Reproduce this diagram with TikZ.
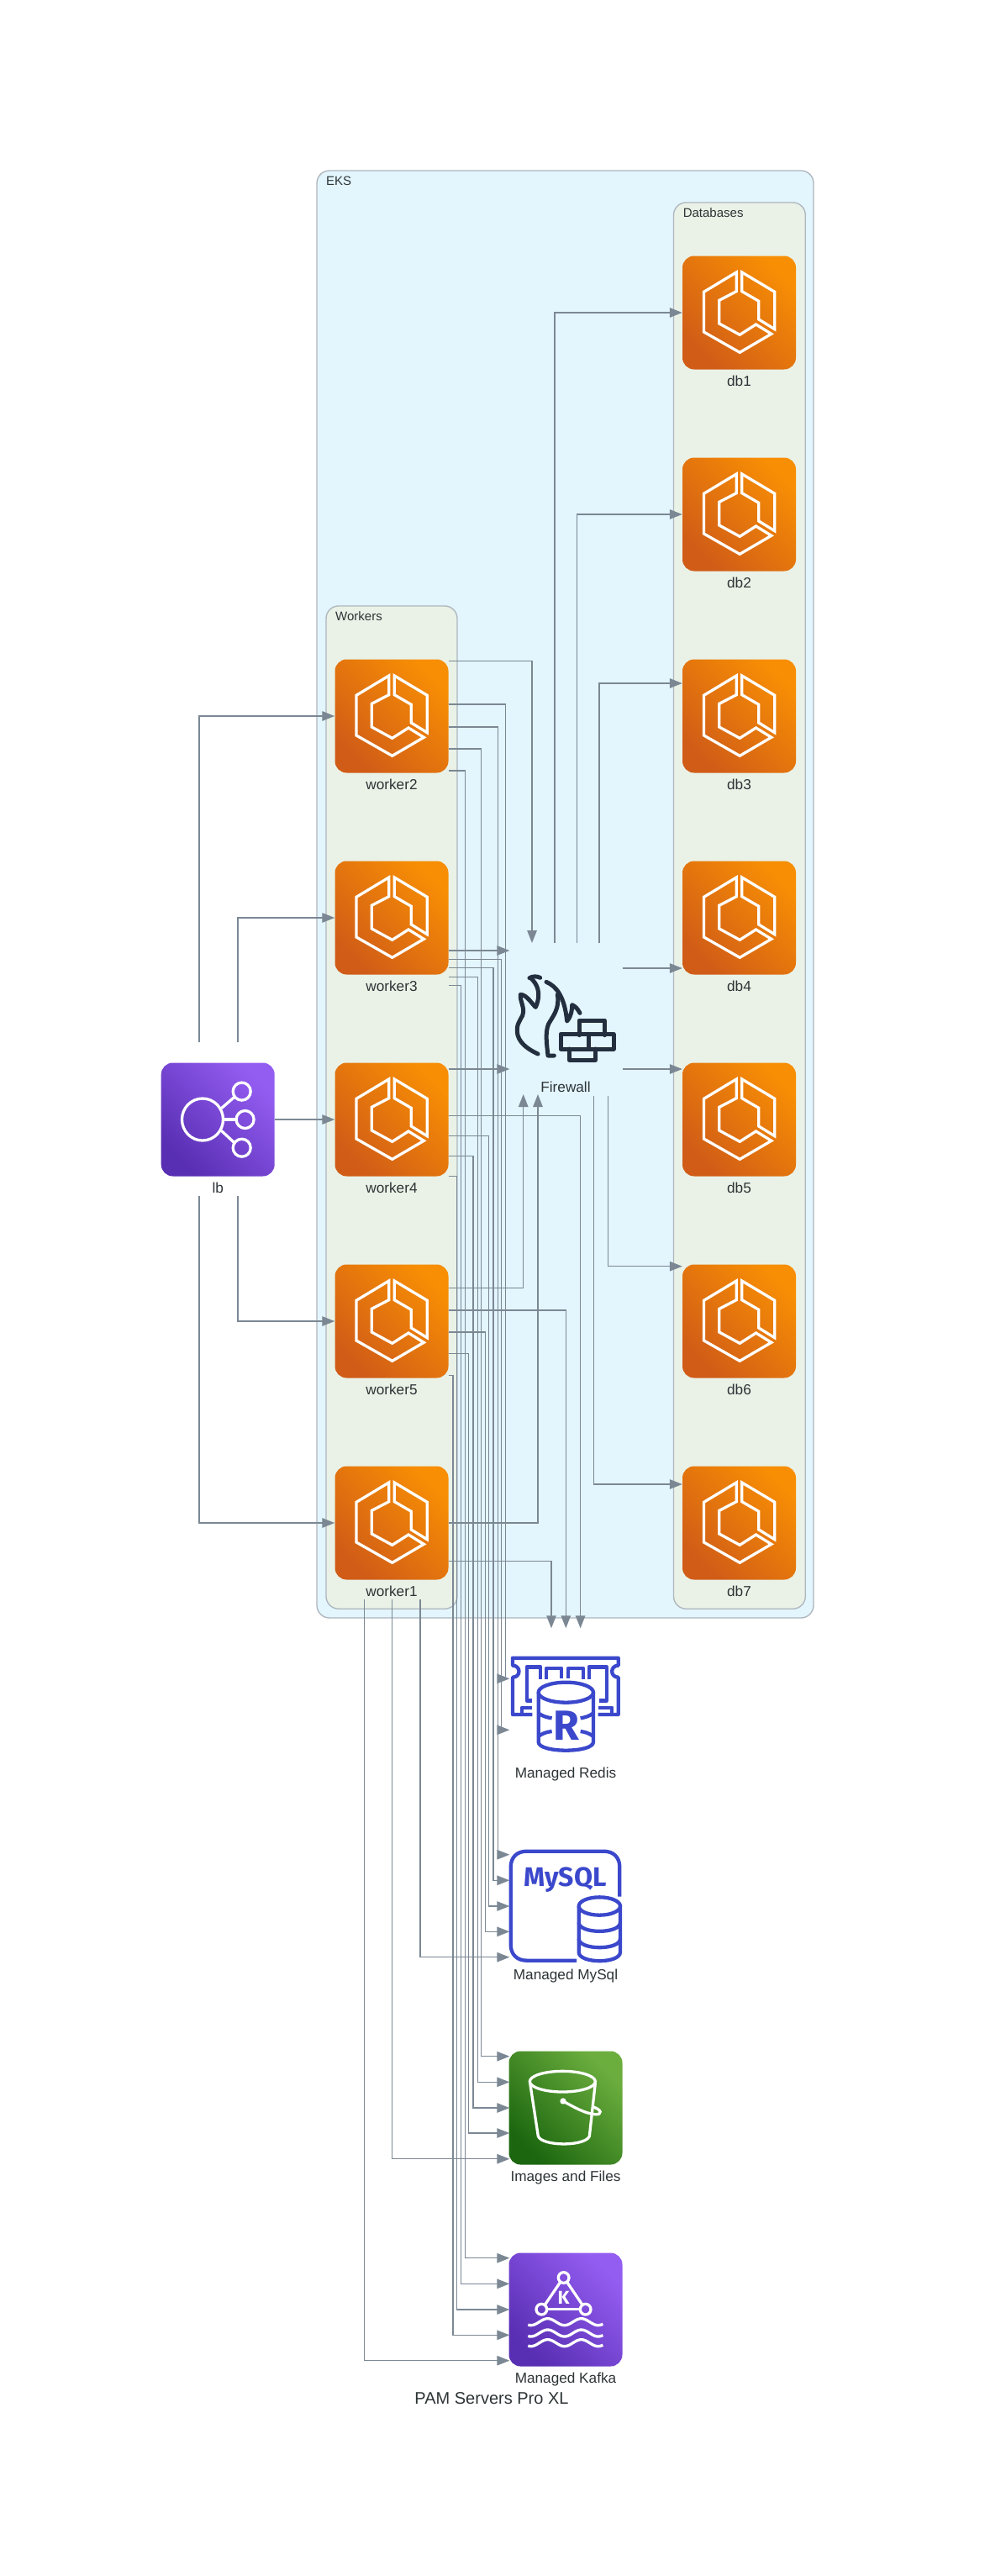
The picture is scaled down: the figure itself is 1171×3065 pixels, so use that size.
\documentclass[tikz,border=0pt]{standalone}
\usepackage{fontspec}
\setmainfont{Liberation Sans}
\newfontfamily\firafont{Fira Sans}
\usetikzlibrary{arrows.meta,shapes.geometric}
\definecolor{txt}{HTML}{2D3436}
\definecolor{edgec}{HTML}{7B8894}
\definecolor{clusb}{HTML}{AEB6BE}
\definecolor{eksbg}{HTML}{E3F5FD}
\definecolor{grpbg}{HTML}{EAF2E7}
\definecolor{awsblue}{HTML}{3B48CC}
\definecolor{awsdark}{HTML}{232F3E}
\tikzset{
  edge/.style={draw=edgec,line width=1.35pt,-{Triangle[length=15pt,width=11.5pt,fill=edgec]}},
  lab/.style={font=\fontsize{17.2}{20}\selectfont,text=txt,inner sep=0pt,text height=12.6pt,text depth=4pt,yshift=-7pt},
  grouplab/.style={font=\fontsize{15}{17}\selectfont,text=txt,inner sep=0pt,anchor=west},
  group/.style={draw=clusb,line width=1.35pt,rounded corners=15pt,inner sep=0pt},
  iconbox/.style={minimum size=135pt,inner sep=0pt,rounded corners=14pt},
  plainbox/.style={minimum size=135pt,inner sep=0pt},
  orangeicon/.style={iconbox,bottom color={rgb,255:red,208;green,92;blue,23},top color={rgb,255:red,247;green,142;blue,4},shading angle=-45},
  purpleicon/.style={iconbox,bottom color={rgb,255:red,88;green,46;blue,178},top color={rgb,255:red,148;green,93;blue,242},shading angle=-45},
  greenicon/.style={iconbox,bottom color={rgb,255:red,27;green,102;blue,15},top color={rgb,255:red,108;green,174;blue,62},shading angle=-45},
  glyphw/.style={draw=white,line width=3.3pt,line join=miter},
  glyphb/.style={draw=awsblue,line width=4.3pt,line join=round},
  glyphd/.style={draw=awsdark,line width=5pt,line join=round,line cap=round},
  zoomgrid/.style={x=0.33333pt,y=-0.33333pt},
  ecsglyph/.pic={
    \draw[glyphw] (-3.3,-48)--(-42,-24.7)--(-42,23)--(0.7,47.3)--(38.3,25.3)--(20,14)--(0.7,26.3)--(-23.7,13)--(-23.7,-14.7)--(-3.3,-25.3)--cycle;
    \draw[glyphw] (3.3,-48)--(3.3,-25.3)--(23.3,-13.7)--(23.3,8)--(42.3,19.7)--(42.3,-24.7)--cycle;
  }
}
% source, source dy, channel dx, target, target dy
\newcommand{\routeedge}[5]{\draw[edge] ([shift={(0,#2)}]#1.east) -- ++(#3,0) |- ([shift={(1,#5)}]#4.west);}
% worker/lb bottom: source, source dx, target, target dy
\newcommand{\downedge}[4]{\draw[edge] ([shift={(#2,91)}]#1.center) |- ([shift={(1,#4)}]#3.west);}
% horizontal then vertical to a top/bottom entry
\newcommand{\hvedge}[5]{\draw[edge] ([shift={(0,#2)}]#1.east) -| ([shift={(#4,#5)}]#3.center);}
\begin{document}
\begin{tikzpicture}[x=1pt,y=-1pt]
\useasboundingbox (0,0) rectangle (1171,3065);
\fill[white] (0,0) rectangle (1171,3065);

% clusters
\node[group,fill=eksbg,minimum width=591pt,minimum height=1722pt] (eks) at (672.5,1064) {};
\node[group,fill=grpbg,minimum width=156.8pt,minimum height=1673.3pt] (dbs) at (879.9,1077.6) {};
\node[group,fill=grpbg,minimum width=156pt,minimum height=1193.3pt] (wks) at (466,1317.6) {};
\node[grouplab] (eksl) at (388,215) {EKS};
\node[grouplab] (dbsl) at (812.6,253) {Databases};
\node[grouplab] (wksl) at (399,733) {Workers};

% nodes
\node[orangeicon,label={[lab]below:worker2}] (w2) at (466,852) {};
\node[orangeicon,label={[lab]below:worker3}] (w3) at (466,1092) {};
\node[orangeicon,label={[lab]below:worker4}] (w4) at (466,1332) {};
\node[orangeicon,label={[lab]below:worker5}] (w5) at (466,1572) {};
\node[orangeicon,label={[lab]below:worker1}] (w1) at (466,1812) {};
\node[orangeicon,label={[lab]below:db1}] (db1) at (879.5,372) {};
\node[orangeicon,label={[lab]below:db2}] (db2) at (879.5,612) {};
\node[orangeicon,label={[lab]below:db3}] (db3) at (879.5,852) {};
\node[orangeicon,label={[lab]below:db4}] (db4) at (879.5,1092) {};
\node[orangeicon,label={[lab]below:db5}] (db5) at (879.5,1332) {};
\node[orangeicon,label={[lab]below:db6}] (db6) at (879.5,1572) {};
\node[orangeicon,label={[lab]below:db7}] (db7) at (879.5,1812) {};
\node[purpleicon,label={[lab]below:lb}] (lb) at (259.2,1332) {};
\node[plainbox,label={[lab]below:Firewall}] (fw) at (673,1212) {};
\node[plainbox,label={[lab]below:Managed Redis}] (red) at (673,2028) {};
\node[plainbox,label={[lab]below:Managed MySql}] (sql) at (673,2268) {};
\node[greenicon,label={[lab]below:Images and Files}] (s3) at (673,2508) {};
\node[purpleicon,label={[lab]below:Managed Kafka}] (kaf) at (673,2748) {};
\node[font=\fontsize{20}{24}\selectfont,text=txt,inner sep=0pt] (title) at (585,2854) {PAM Servers Pro XL};

% ecs glyphs
\foreach \n in {w1,w2,w3,w4,w5,db1,db2,db3,db4,db5,db6,db7} { \pic at (\n.center) {ecsglyph}; }

% lb glyph
\begin{scope}[shift={(lb.center)}]
  \draw[glyphw] (-18.2,0) ellipse [x radius=24.5,y radius=25];
  \draw[glyphw] (28.5,-33.4) circle [radius=10.5];
  \draw[glyphw] (32.4,0) circle [radius=10.5];
  \draw[glyphw] (28.5,33.7) circle [radius=10.5];
  \draw[glyphw] (4.3,-13.4)--(20,-27);
  \draw[glyphw] (6.3,0)--(21.8,0);
  \draw[glyphw] (4.3,13.4)--(20,28);
\end{scope}

% firewall glyph
\begin{scope}[shift={(580,1100)},zoomgrid]
  \draw[glyphd] (150,191) .. controls (160,184) and (178,184) .. (188,190);
  \draw[glyphd] (158,195) .. controls (172,208) and (196,240) .. (172,295)
     .. controls (160,285) and (140,250) .. (118,250)
     .. controls (115,275) and (135,295) .. (125,325)
     .. controls (115,345) and (100,360) .. (108,395)
     .. controls (118,430) and (155,450) .. (180,462);
  \draw[glyphd] (210,205) .. controls (245,220) and (275,255) .. (284,345)
     .. controls (300,325) and (302,305) .. (302,287)
     .. controls (315,292) and (322,302) .. (330,316);
  \draw[glyphd] (250,250) .. controls (258,300) and (235,325) .. (218,355)
     .. controls (205,385) and (212,430) .. (216,468) -- (238,468);
  \draw[glyphd] (327,395)--(327,342)--(418,342)--(418,395);
  \draw[glyphd] (261,391) rectangle (450,444);
  \draw[glyphd] (360,391)--(360,444);
  \draw[glyphd] (293,444)--(293,484)--(385,484)--(385,444);
\end{scope}

% redis glyph
\begin{scope}[shift={(400,1900)},zoomgrid]
  \draw[glyphb] (700,420)--(630,420)--(630,287) .. controls (660,287) and (660,245) .. (630,245) -- (630,218)
     -- (1007,218) -- (1007,245) .. controls (977,245) and (977,287) .. (1007,287) -- (1007,420) -- (935,420);
  \draw[glyphb] (700,370)--(680,370)--(680,250)--(730,250)--(730,295);
  \draw[glyphb] (750,295)--(750,255)--(805,255)--(805,290);
  \draw[glyphb] (828,290)--(828,255)--(882,255)--(882,295);
  \draw[glyphb] (902,295)--(902,250)--(965,250)--(965,370)--(938,370);
  \draw[glyphb] (700,395)--(662,395)--(662,420);
  \draw[glyphb] (935,395)--(985,395)--(985,420);
  \draw[glyphb] (820,341) ellipse [x radius=98,y radius=36];
  \draw[glyphb] (722,341)--(722,518) .. controls (722,558) and (918,558) .. (918,518) -- (918,341);
  \draw[glyphb] (722,415) .. controls (735,425) and (750,430) .. (770,433);
  \draw[glyphb] (918,415) .. controls (905,425) and (890,430) .. (872,433);
  \draw[glyphb] (722,498) .. controls (735,488) and (750,482) .. (770,480);
  \draw[glyphb] (918,498) .. controls (905,488) and (890,482) .. (872,480);
  \node[text=awsblue,font=\firafont\bfseries\fontsize{50}{50}\selectfont,inner sep=0pt] (redisr) at (822,458) {R};
\end{scope}

% mysql glyph
\begin{scope}[shift={(400,1900)},zoomgrid]
  \draw[glyphb,line join=miter] (1012,1070)--(1012,965) .. controls (1012,930) and (990,908) .. (955,908)
     -- (680,908) .. controls (645,908) and (623,930) .. (623,965) -- (623,1241)
     .. controls (623,1276) and (645,1298) .. (680,1298) -- (858,1298);
  \node[text=awsblue,font=\firafont\bfseries\fontsize{32}{32}\selectfont,inner sep=0pt,text height=23pt,text depth=7pt] (mysqlt) at (817,1010) {MySQL};
  \draw[glyphb] (940,1104) ellipse [x radius=74,y radius=32];
  \draw[glyphb] (866,1104)--(866,1268) .. controls (866,1310) and (1014,1310) .. (1014,1268) -- (1014,1104);
  \draw[glyphb] (866,1162) .. controls (866,1204) and (1014,1204) .. (1014,1162);
  \draw[glyphb] (866,1220) .. controls (866,1262) and (1014,1262) .. (1014,1220);
\end{scope}

% s3 glyph
\begin{scope}[shift={(400,2400)},zoomgrid]
  \draw[glyphw] (808,230) ellipse [x radius=117,y radius=37];
  \draw[glyphw] (692,235)--(721,425) .. controls (735,462) and (890,462) .. (904,425) -- (925,235);
  \fill[white] (810,300) circle [radius=11];
  \draw[glyphw] (810,300) .. controls (850,322) and (890,345) .. (925,347)
     .. controls (950,349) and (950,330) .. (915,320);
\end{scope}

% kafka glyph
\begin{scope}[shift={(400,2640)},zoomgrid]
  \draw[glyphw] (812,210) circle [radius=19];
  \draw[glyphw] (733,323) circle [radius=19];
  \draw[glyphw] (890,323) circle [radius=19];
  \draw[glyphw] (800,226)--(745,307);
  \draw[glyphw] (824,226)--(879,307);
  \draw[glyphw] (752,323)--(871,323);
  \node[text=white,font=\firafont\bfseries\fontsize{22}{22}\selectfont,inner sep=0pt] (kafkak) at (812,282) {K};
  \foreach \yy in {368,408,443} {
    \draw[glyphw,line cap=butt] plot[smooth,domain=685:952,samples=50] (\x,{\yy-12*cos((\x-755)*3)});
  }
\end{scope}

% lb edges
\draw[edge] ([shift={(-22.2,-92)}]lb.center) |- (w2.west);
\draw[edge] ([shift={(23.8,-92)}]lb.center) |- (w3.west);
\draw[edge] (lb.east) -- (w4.west);
\draw[edge] ([shift={(23.8,91)}]lb.center) |- (w5.west);
\draw[edge] ([shift={(-22.2,91)}]lb.center) |- (w1.west);

% workers to firewall
\hvedge{w2}{-65.3}{fw}{-40}{-90}
\draw[edge] ([shift={(0,39)}]w3.east) -- ([shift={(1,-81)}]fw.west);
\draw[edge] ([shift={(0,-60)}]w4.east) -- ([shift={(1,60)}]fw.west);
\hvedge{w5}{-39.3}{fw}{-50.3}{90}
\hvedge{w1}{0}{fw}{-33}{90}

% workers to redis (top)
\hvedge{w4}{-4.7}{red}{17.6}{-90.7}
\hvedge{w5}{-13}{red}{0.3}{-90.7}
\hvedge{w1}{45.7}{red}{-17}{-90.7}

% workers to redis (side)
\routeedge{w2}{-14}{67.8}{red}{-30.7}
\routeedge{w3}{49.3}{62.5}{red}{30.3}

% workers to mysql
\routeedge{w2}{13}{58.5}{sql}{-61.3}
\routeedge{w3}{59.7}{53.2}{sql}{-30.7}
\routeedge{w4}{19.3}{47.8}{sql}{0}
\routeedge{w5}{13}{43.8}{sql}{30.3}
\downedge{w1}{34}{sql}{60.7}

% workers to images
\routeedge{w2}{39}{38.5}{s3}{-61.3}
\routeedge{w3}{70.3}{34.5}{s3}{-30.7}
\routeedge{w4}{43.3}{29.2}{s3}{0}
\routeedge{w5}{38.7}{23.8}{s3}{30}
\downedge{w1}{0.7}{s3}{60.7}

% workers to kafka
\routeedge{w2}{65}{19.8}{kaf}{-61.3}
\routeedge{w3}{80.7}{14.5}{kaf}{-30.7}
\routeedge{w4}{67.3}{9.8}{kaf}{0}
\routeedge{w5}{64.7}{5.2}{kaf}{30.3}
\downedge{w1}{-32.7}{kaf}{60.7}

% firewall to databases
\draw[edge] ([shift={(-13,-90)}]fw.center) |- (db1.west);
\draw[edge] ([shift={(13.7,-90)}]fw.center) |- (db2.west);
\draw[edge] ([shift={(40,-90)}]fw.center) |- ([shift={(0,-39)}]db3.west);
\draw[edge] ([shift={(0,-60)}]fw.east) -- ([shift={(0,60)}]db4.west);
\draw[edge] ([shift={(0,60)}]fw.east) -- ([shift={(0,-60)}]db5.west);
\draw[edge] ([shift={(50.7,92)}]fw.center) |- ([shift={(0,-65.3)}]db6.west);
\draw[edge] ([shift={(33.7,92)}]fw.center) |- ([shift={(0,-46)}]db7.west);
\end{tikzpicture}
\end{document}
